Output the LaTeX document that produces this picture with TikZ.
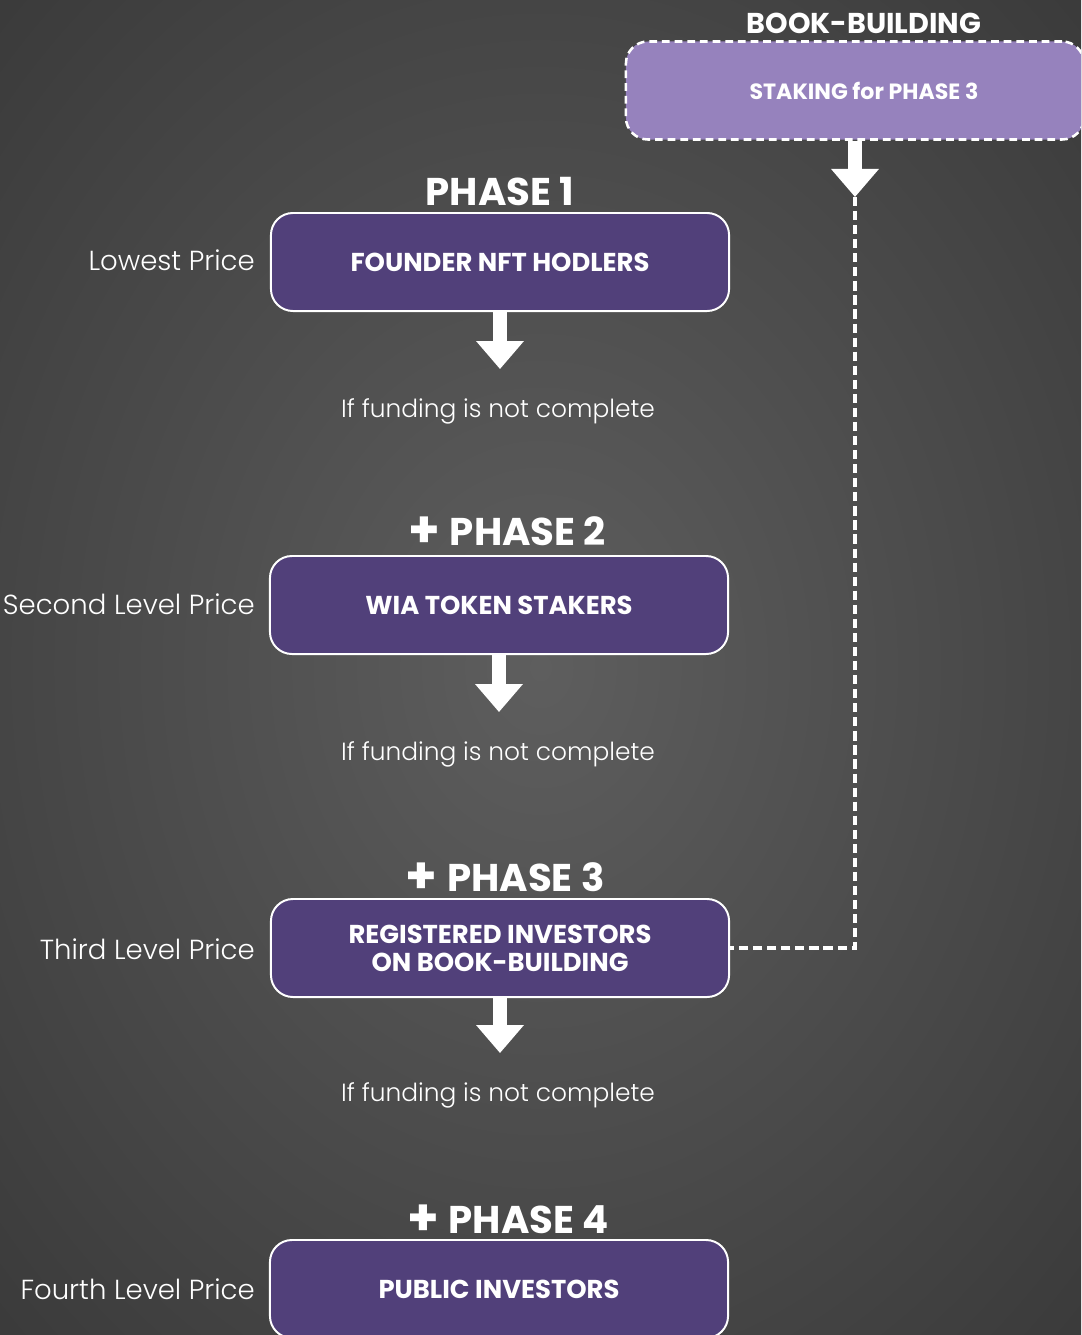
\documentclass[tikz,border=0pt]{standalone}
\usepackage{fontspec}
\setmainfont{Poppins}
\newfontfamily\thinfont{Poppins Light}
\usetikzlibrary{arrows.meta}

\definecolor{bgin}{HTML}{5E5E5E}
\definecolor{bgout}{HTML}{2C2C2C}
\definecolor{phasebox}{HTML}{51407A}
\definecolor{stakebox}{HTML}{9682BD}
\pgfdeclareradialshading{bgglow}{\pgfpoint{0bp}{0bp}}{color(0bp)=(bgin); color(50bp)=(bgout); color(80bp)=(bgout)}
\newcommand{\plusmark}{\raisebox{-1.5pt}{\fontsize{36}{36}\selectfont+}\hspace{7pt}}

\begin{document}
\begin{tikzpicture}[x=0.025cm,y=-0.025cm,
    phase/.style={draw=white,line width=1.4pt,fill=phasebox,rounded corners=0.55cm,
        minimum width=11.45cm,minimum height=2.45cm,text=white,align=center,
        font=\bfseries\fontsize{18.4}{20}\selectfont},
    stake/.style={phase,fill=stakebox,line width=1.8pt,dash pattern=on 5.5pt off 3.5pt,
        font=\bfseries\fontsize{15.7}{20}\selectfont},
    title/.style={text=white,anchor=base,inner sep=0pt,font=\bfseries\fontsize{27.5}{32}\selectfont},
    price/.style={text=white,anchor=base east,inner sep=0pt,font=\thinfont\fontsize{19.6}{24}\selectfont},
    note/.style={text=white,anchor=base,inner sep=0pt,font=\thinfont\fontsize{17.7}{22}\selectfont},
    flow/.style={white,line width=10pt,-{Triangle[width=1.15cm,length=0.7cm]}},
    link/.style={white,line width=2.2pt,dash pattern=on 6.5pt off 3.5pt}]
    \clip (0,0) rectangle (1081,1335);
    \shade[shading=bgglow] (0,0) rectangle (1081,1335);

    \node[title,font=\bfseries\fontsize{20.4}{24}\selectfont] (bb) at (864,33) {BOOK-BUILDING};
    \node[stake] (stake) at (855,90.5) {\hspace*{0.45cm}STAKING for PHASE 3};
    \coordinate (turn) at (855,197);

    \node[title] (ph1) at (500,205) {PHASE 1};
    \node[phase] (founder) at (500,262) {FOUNDER NFT HODLERS};
    \node[price] (p1) at (255,270) {Lowest Price};
    \node[note] (fund1) at (498,417) {If funding is not complete};

    \node[title] (ph2) at (507,545) {\plusmark PHASE 2};
    \node[phase] (stakers) at (499,605) {WIA TOKEN STAKERS};
    \node[price] (p2) at (255,614) {Second Level Price};
    \node[note] (fund2) at (498,760) {If funding is not complete};

    \node[title] (ph3) at (505,891) {\plusmark PHASE 3};
    \node[phase] (reg) at (500,948) {REGISTERED INVESTORS\\ON BOOK-BUILDING};
    \node[price] (p3) at (255,959) {Third Level Price};
    \node[note] (fund3) at (498,1101) {If funding is not complete};

    \node[title] (ph4) at (508,1233) {\plusmark PHASE 4};
    \node[phase] (public) at (499,1289) {PUBLIC INVESTORS};
    \node[price] (p4) at (255,1299) {Fourth Level Price};

    \draw[flow,shorten >=0.72cm] (founder.south) -- (founder.south |- fund1.north);
    \draw[flow,shorten >=0.72cm] (stakers.south) -- (stakers.south |- fund2.north);
    \draw[flow,shorten >=0.72cm] (reg.south) -- (reg.south |- fund3.north);
    \draw[flow] (stake.south) -- (turn);
    \draw[link] (turn) |- (reg.east);
\end{tikzpicture}
\end{document}
